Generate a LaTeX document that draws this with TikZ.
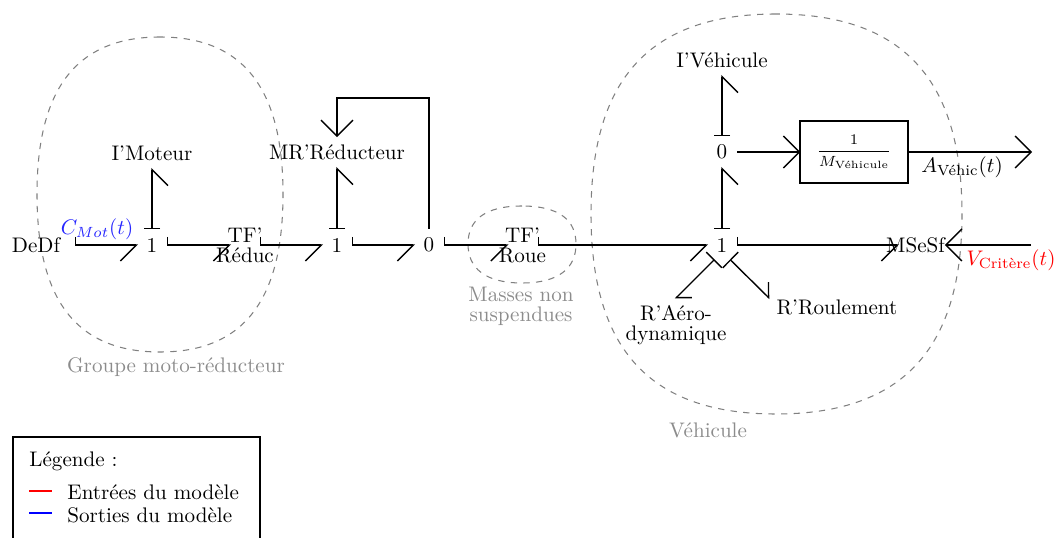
\documentclass[tikz,border=0pt]{standalone}
\usepackage{amsmath}
\usetikzlibrary{arrows.meta,calc}
\newlength\pxu
\setlength\pxu{0.4743pt}
\tikzset{
  elem/.style={inner sep=0pt,outer sep=0pt,minimum width=30\pxu,minimum height=32\pxu,font=\fontsize{10}{9.5}\selectfont,align=center,text=black},
  bondbase/.style={line width=0.65pt,draw=black},
  bond/.style={bondbase,{Bar[right,width=7.589pt]}-{Straight Barb[right,length=7.589pt,width=15.178pt,sep=-0.5pt]}},
  vbond/.style={bondbase,{Bar[width=7.589pt]}-{Straight Barb[right,length=7.589pt,width=15.178pt,sep=-0.5pt]}},
  dbond/.style={bondbase,{Bar[width=10.435pt]}-{Straight Barb[left,length=5.217pt,width=10.435pt,sep=-0.5pt]}},
  sig/.style={bondbase,-{Straight Barb[length=7.589pt,width=15.178pt,sep=-0.5pt]}},
  zone/.style={draw=black!50,dashed,line width=0.5pt},
  zonetext/.style={inner sep=0pt,font=\fontsize{10}{9.5}\selectfont,align=center,text=black!45},
  plain/.style={inner sep=0pt,text=black},
}
\begin{document}
\begin{tikzpicture}[x=1\pxu,y=-1\pxu]
\useasboundingbox (0,0) rectangle (1054,538);
% zones
\draw[zone] (160,37) .. controls (74,37) and (37,92) .. (37,194) .. controls (37,297) and (74,352) .. (160,352) .. controls (246,352) and (283,297) .. (283,194) .. controls (283,92) and (246,37) .. (160,37) -- cycle;
\draw[zone] (522,206) .. controls (485,206) and (468,220) .. (468,244) .. controls (468,268) and (485,283) .. (522,283) .. controls (559,283) and (576,268) .. (576,244) .. controls (576,220) and (559,206) .. (522,206) -- cycle;
\draw[zone] (776,14) .. controls (645,14) and (591,84) .. (591,214) .. controls (591,344) and (645,414) .. (776,414) .. controls (907,414) and (962,344) .. (962,214) .. controls (962,84) and (907,14) .. (776,14) -- cycle;
\node[zonetext] (zA) at (176,367) {Groupe moto-réducteur};
\node[zonetext] (zB) at (521,306) {Masses non\\suspendues};
\node[zonetext] (zC) at (708,430) {Véhicule};
% elements
\node[elem,minimum width=78\pxu] (dedf) at (36,245) {DeDf};
\node[elem] (j1) at (152,245) {1};
\node[elem] (imot) at (152,153) {I'Moteur};
\node[elem] (tfr) at (245,245) {\makebox[0pt]{TF'}\\\makebox[0pt]{Réduc}};
\node[elem] (j2) at (337,245) {1};
\node[elem] (mr) at (337,152) {MR'Réducteur};
\node[elem] (j3) at (429,245) {0};
\node[elem] (tfw) at (522.5,245) {\makebox[0pt]{TF'}\\\makebox[0pt]{Roue}};
\node[elem] (j4) at (722,245) {1};
\node[elem] (j5) at (722,152) {0};
\node[elem] (iveh) at (722,60) {I'Véhicule};
\node[elem,minimum width=61\pxu] (mse) at (915.5,245) {MSeSf};
\node[elem,anchor=north,inner ysep=7\pxu] (raero) at (676,298) {R'Aéro-\\[0.4pt]dynamique};
\node[elem,minimum width=136\pxu,minimum height=18\pxu] (rroul) at (837,307) {R'Roulement};
\node[draw,bondbase,inner sep=0pt,minimum width=108\pxu,minimum height=62\pxu,text=black] (gain) at (854,152) {\scriptsize$\dfrac{1}{M_{\text{Véhicule}}}$};
\coordinate (aout) at (1031,152);
\coordinate (vin) at (1031,245);
\coordinate (topR) at (429,98);
\coordinate (topL) at (337,98);
% bonds
\draw[bond] (dedf.east) -- (j1.west);
\draw[bond] (j1.east) -- (tfr.west);
\draw[bond] (tfr.east) -- (j2.west);
\draw[bond] (j2.east) -- (j3.west);
\draw[bond] (j3.east) -- (tfw.west);
\draw[bond] (tfw.east) -- (j4.west);
\draw[bond] (j4.east) -- ([xshift=13\pxu]mse.west);
\draw[vbond] (j1.north) -- (imot.south);
\draw[vbond] (j2.north) -- (mr.south);
\draw[vbond] (j4.north) -- (j5.south);
\draw[vbond] (j5.north) -- (iveh.south);
\draw[dbond] ([shift={(-7.5,14.5)}]j4.center) -- (raero.north);
\draw[dbond] ([shift={(8,14.5)}]j4.center) -- (rroul.north west);
\draw[sig] (j3.north) -- (topR) -- (topL) -- (mr.north);
\draw[sig] (j5.east) -- (gain.west);
\draw[sig] (gain.east) -- (aout);
\draw[sig] (vin) -- (mse.east);
% signal labels
\node[plain,text=blue!85] (cmot) at (97,229) {$C_{Mot}(t)$};
\node[plain] (aveh) at (962,167) {$A_{\text{Véhic}}(t)$};
\node[plain,text=red] (vcrit) at (1011,260) {$V_{\text{Critère}}(t)$};
% legend
\draw[bondbase] (13,538) -- (13,437) -- (260,437) -- (260,538);
\node[plain,anchor=west] (lt) at (29,461) {Légende :};
\node[plain,anchor=west] (le) at (67,492) {Entrées du modèle};
\node[plain,anchor=west] (ls) at (67,515) {Sorties du modèle};
\coordinate (ler) at (29,491);
\coordinate (lsb) at (29,513);
\draw[draw=red,line width=0.5pt] (ler) -- ++(23,0);
\draw[draw=blue,line width=0.5pt] (lsb) -- ++(23,0);
\end{tikzpicture}
\end{document}
